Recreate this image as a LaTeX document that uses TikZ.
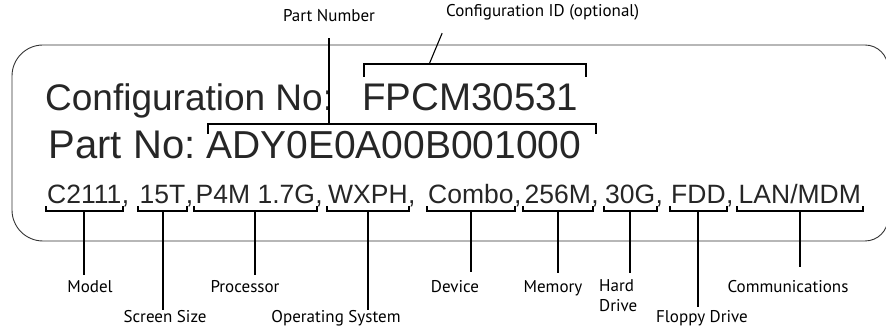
\documentclass[tikz,border=0pt]{standalone}
\usepackage{fontspec}
\setmainfont{Liberation Sans}
\newfontfamily\lblfont{PT Sans}
\usetikzlibrary{calc}
\tikzset{
    frame/.style={draw=black!80, line width=0.9pt},
    bigtext/.style={inner sep=0pt, text=black!85, font=\fontsize{38.5}{42}\selectfont},
    item/.style={inner sep=0pt, text depth=0pt, text=black!85, font=\fontsize{26.5}{29}\selectfont},
    brk/.style={line width=2pt, black},
    stem/.style={line width=2pt, black},
    thinline/.style={line width=1.1pt, black},
    lbl/.style={inner sep=3pt, font=\lblfont\fontsize{17}{20}\selectfont}
}

\begin{document}
\begin{tikzpicture}[x=1pt, y=1pt]
    \useasboundingbox (0,0) rectangle (886,328);
    % Frame
    \draw[frame] (450,283) [rounded corners=23pt] -- (888,283) -- (888,87) -- (450,87)
        [rounded corners=31pt] -- (12,87) -- (12,283) -- cycle;

    % Big lines
    \node (conf) [bigtext, anchor=base west, font=\fontsize{37}{40}\selectfont] at (45,217) {Configuration No:};
    \node (cfgid) [bigtext, anchor=base west] at (362,217) {FPCM30531};
    \node (partlbl) [bigtext, anchor=base west, font=\fontsize{40}{42}\selectfont] at (48.5,169) {Part No:};
    \node (partno) [bigtext, anchor=base west, font=\fontsize{39}{42}\selectfont] at (206,169) {ADY0E0A00B001000};

    % Items
    \node (mdl) [item, anchor=base west] at (47,124) {C2111};
    \node (scr) [item, anchor=base west] at (139.5,124) {15T};
    \node (cpu) [item, anchor=base west] at (195.5,124) {P4M 1.7G};
    \node (os)  [item, anchor=base west] at (328,124) {WXPH};
    \node (dev) [item, anchor=base west] at (428,124) {Combo};
    \node (mem) [item, anchor=base west] at (524.5,124) {256M};
    \node (hdd) [item, anchor=base west] at (605,124) {30G};
    \node (fdd) [item, anchor=base west] at (671,124) {FDD};
    \node (com) [item, anchor=base west] at (738.5,124) {LAN/MDM};
    \foreach \n in {mdl,scr,cpu,os,dev,mem,hdd,fdd}
        \node [item, anchor=base west] at (\n.base east) {,};

    % Labels
    \node (pnum) [lbl, anchor=base] at (329,306) {Part Number};
    \node (cidlbl) [lbl, anchor=base west, inner xsep=0pt] at (446,311) {Configuration ID (optional)};
    \node (model) [lbl, anchor=base] at (90,35) {Model};
    \node (screen) [lbl, anchor=base] at (165,5) {Screen Size};
    \node (proc) [lbl, anchor=base] at (245,35) {Processor};
    \node (opsys) [lbl, anchor=base] at (336,5) {Operating System};
    \node (device) [lbl, anchor=base] at (455,35) {Device};
    \node (memory) [lbl, anchor=base] at (553,35) {Memory};
    \node (hard) [lbl, anchor=north west, align=left] at (596,51.5) {Hard\\Drive};
    \node (floppy) [lbl, anchor=base] at (702,5) {Floppy Drive};
    \node (comms) [lbl, anchor=base] at (788,35) {Communications};

    % Brackets
    \draw[brk] ([shift={(2,-2)}]partno.north west) -- ([shift={(2,8)}]partno.north west)
        -- ([shift={(14,8)}]partno.north east) -- ([shift={(14,-2)}]partno.north east);
    \draw[brk] ([shift={(2,7)}]cfgid.north west) -- ([shift={(2,20)}]cfgid.north west)
        -- ([shift={(7,20)}]cfgid.north east) -- ([shift={(7,7)}]cfgid.north east);
    \foreach \n in {mdl,scr,cpu,os,dev,mem,hdd,fdd,com}
        \draw[brk] ([shift={(-1.5,-2)}]\n.south west) -- ([shift={(-1.5,-7)}]\n.south west)
            -- ([shift={(1.5,-7)}]\n.south east) -- ([shift={(1.5,-2)}]\n.south east);

    % Stems
    \coordinate (pnbrk) at ([yshift=8pt]partno.north);
    \coordinate (cidbrk) at ([shift={(-41,20)}]cfgid.north);
    \draw[stem, shorten >=13pt] (pnbrk -| pnum.south) -- (pnum.south);
    \draw[thinline, shorten >=10pt] (cidbrk) -- (cidlbl.south west);
    \foreach \i/\l/\s in {mdl/model/3, scr/screen/-2, cpu/proc/3, os/opsys/-2, dev/device/5.5,
                          mem/memory/5, hdd/hard/3.5, fdd/floppy/0.5, com/comms/10.7}
        \draw[stem, shorten >=\s pt] ([yshift=-7pt]\i.south) -- (\i.south |- \l.north);
\end{tikzpicture}
\end{document}
